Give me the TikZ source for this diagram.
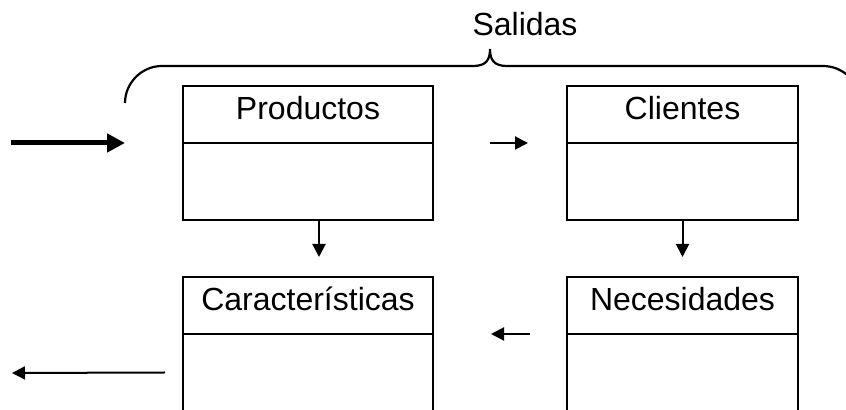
\documentclass[tikz,border=0pt]{standalone}
\usepackage{fontspec}
\setmainfont{Liberation Sans}
\usetikzlibrary{arrows.meta,positioning}

\begin{document}
\begin{tikzpicture}[x=0.5pt, y=-0.5pt,
		every node/.style={font=\fontsize{16pt}{19pt}\selectfont},
		headbox/.style={draw, line width=1.4pt, outer sep=0pt, inner sep=0pt, minimum height=28.5pt, text height=11.5pt, text depth=6pt},
		bodybox/.style={draw, line width=1.4pt, outer sep=0pt, inner sep=0pt, minimum height=38.5pt},
		link/.style={line width=1pt, -{Triangle[length=6.5pt,width=6.5pt]}},
		feed/.style={line width=2.5pt, -{Triangle[length=9pt,width=9pt]}}]
	\clip (0,0) rectangle (846,410);
	% boxes
	\node [headbox, minimum width=125pt, anchor=north west] (prod) at (183,86) {Productos};
	\node [bodybox, minimum width=125pt, below=0pt of prod] (prodbody) {};
	\node [headbox, minimum width=115.5pt, anchor=north west] (cli) at (567,86) {Clientes};
	\node [bodybox, minimum width=115.5pt, below=0pt of cli] (clibody) {};
	\node [headbox, minimum width=125pt, anchor=north west] (car) at (183,277) {Características};
	\node [bodybox, minimum width=125pt, below=0pt of car] (carbody) {};
	\node [headbox, minimum width=115.5pt, anchor=north west] (nec) at (567,277) {Necesidades};
	\node [bodybox, minimum width=115.5pt, below=0pt of nec] (necbody) {};
	% brace
	\node (out) at (525,24.5) {Salidas};
	\draw [line width=1.1pt] (125,103) .. controls (125,83) and (141.6,66) .. (162,66) -- (473,66)
		.. controls (486,66) and (490,60) .. (490,49) .. controls (490,60) and (494,66) .. (507,66) -- (823,66)
		.. controls (843.4,66) and (860,82.6) .. (860,103);
	% arrows
	\coordinate (src) at (11,143);
	\coordinate (sink) at (12,373);
	\draw [feed] (src) -- ([xshift=-29pt]prod.south west);
	\draw [link] ([xshift=28.5pt]prod.south east) -- ([xshift=-19.5pt]cli.south west);
	\draw [link] ([xshift=5.5pt]prodbody.south) -- ++(0,37);
	\draw [link] (clibody.south) -- ++(0,37);
	\draw [link] ([xshift=-18.5pt]nec.south west) -- ([xshift=29pt]car.south east);
	\draw [link] ([xshift=-9pt]carbody.west) -- (sink);
\end{tikzpicture}
\end{document}
